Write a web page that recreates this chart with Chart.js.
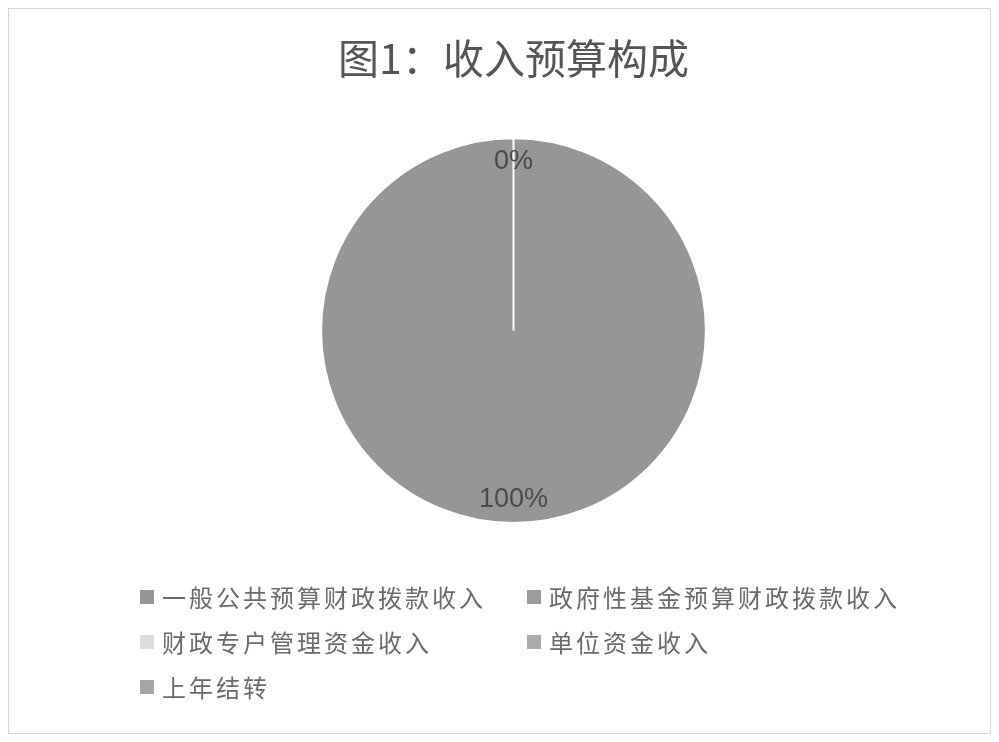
<!DOCTYPE html>
<html>
<head>
<meta charset="utf-8">
<script src="https://cdn.jsdelivr.net/npm/chart.js@4"></script>
<style>
    html, body { margin: 0; padding: 0; background: #fff; }
    .wrap { position: relative; width: 999px; height: 742px; }
    .frame { position: absolute; left: 8px; top: 8px; right: 8px; bottom: 8px; border: 1px solid #d6d6d6; pointer-events: none; }
    #legend { position: absolute; left: 140px; top: 580px; display: grid; grid-template-columns: 387px 380px; row-gap: 12px;
        font-family: "Noto Sans CJK SC", sans-serif; font-size: 24px; letter-spacing: 3px; color: #6a6a6a; }
    #legend .item { display: flex; align-items: center; height: 33px; }
    #legend .box { width: 14px; height: 14px; margin-right: 8px; flex: none; }
</style>
</head>
<body>
<div class="wrap">
    <canvas id="pieChart" width="999" height="742"></canvas>
    <div id="legend"></div>
    <div class="frame"></div>
</div>
<script>
const categories = ['一般公共预算财政拨款收入', '政府性基金预算财政拨款收入', '财政专户管理资金收入', '单位资金收入', '上年结转'];
const values = [100, 0, 0, 0, 0];
const colors = ['#969696', '#9c9c9c', '#dcdcdc', '#ababab', '#a5a5a5'];

// percent labels on each slice, like the data labels in the original
const sliceLabels = {
    id: 'sliceLabels',
    afterDatasetsDraw(chart) {
        const ctx = chart.ctx;
        const total = values.reduce((a, b) => a + b, 0);
        const seen = new Set();
        ctx.save();
        ctx.font = '27px "Liberation Sans", sans-serif';
        ctx.fillStyle = '#4a4a4a';
        ctx.textAlign = 'center';
        ctx.textBaseline = 'middle';
        chart.getDatasetMeta(0).data.forEach((arc, i) => {
            const p = arc.getProps(['x', 'y', 'startAngle', 'endAngle', 'outerRadius'], true);
            const mid = (p.startAngle + p.endAngle) / 2;
            const text = Math.round(values[i] / total * 100) + '%';
            const x = p.x + Math.cos(mid) * p.outerRadius * 0.88;
            const y = p.y + Math.sin(mid) * p.outerRadius * 0.88;
            const key = text + Math.round(x) + ',' + Math.round(y);
            if (seen.has(key)) return;
            seen.add(key);
            ctx.fillText(text, x, y);
        });
        ctx.restore();
    }
};

const chart = new Chart(document.getElementById('pieChart').getContext('2d'), {
    type: 'pie',
    data: {
        labels: categories,
        datasets: [{
            data: values,
            backgroundColor: colors,
            borderColor: '#ffffff',
            borderWidth: 2
        }]
    },
    options: {
        responsive: false,
        animation: false,
        layout: { padding: { left: 28, bottom: 218 } },
        plugins: {
            legend: { display: false },
            tooltip: { enabled: false },
            title: {
                display: true,
                text: '图1：收入预算构成',
                color: '#555555',
                font: { family: '"Noto Sans CJK SC", sans-serif', size: 41, weight: 'normal' },
                padding: { top: 34, bottom: 54 }
            }
        }
    },
    plugins: [sliceLabels]
});

// legend in two columns, built from the chart's own legend items
const legendEl = document.getElementById('legend');
chart.options.plugins.legend.labels.generateLabels(chart).forEach(item => {
    const row = document.createElement('div');
    row.className = 'item';
    const box = document.createElement('span');
    box.className = 'box';
    box.style.background = item.fillStyle;
    const label = document.createElement('span');
    label.textContent = item.text;
    row.appendChild(box);
    row.appendChild(label);
    legendEl.appendChild(row);
});
</script>
</body>
</html>
